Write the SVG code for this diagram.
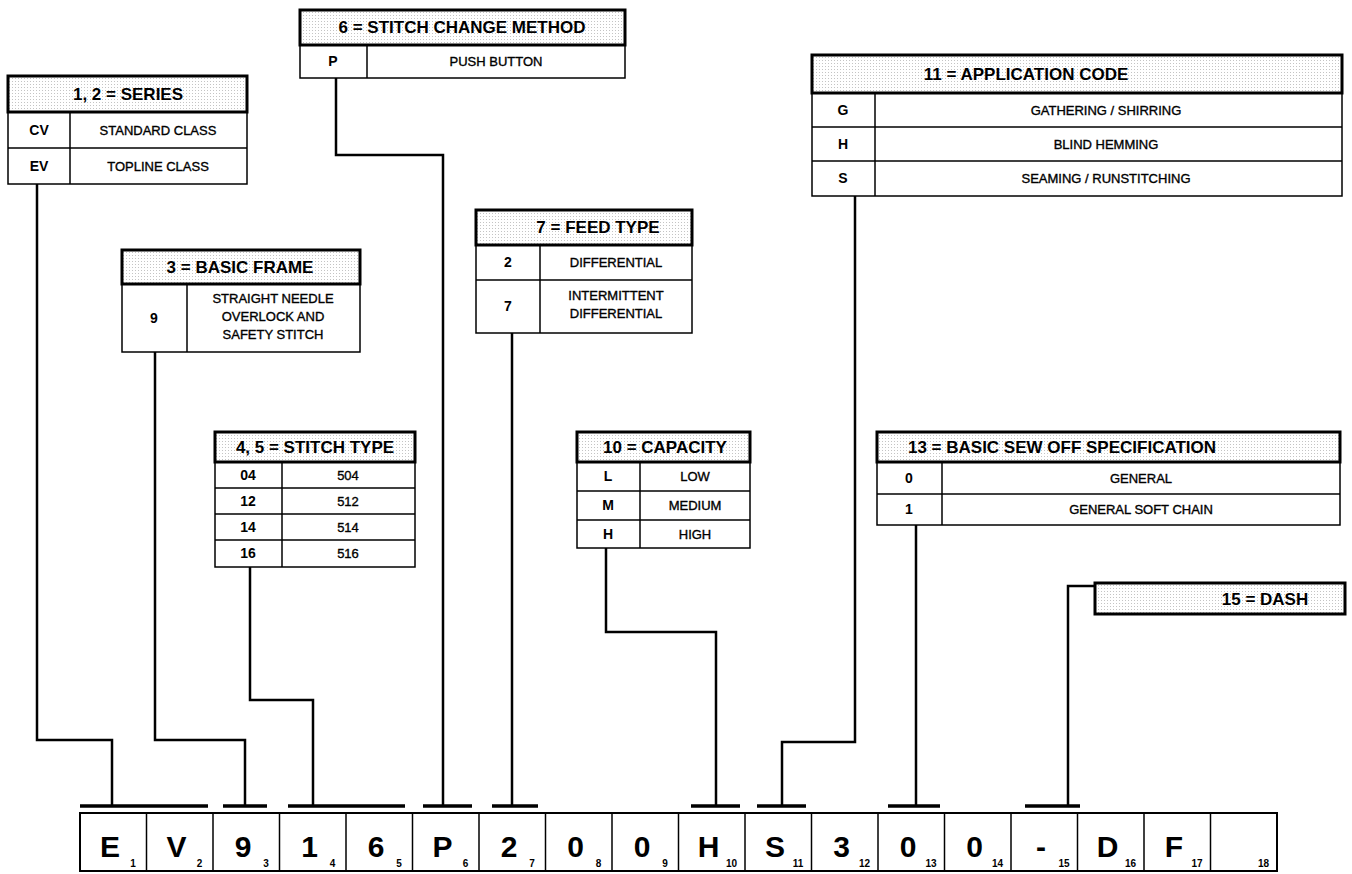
<svg xmlns="http://www.w3.org/2000/svg" width="1352" height="874" viewBox="0 0 1352 874">
<defs>
<pattern id="dots" width="3" height="3" patternUnits="userSpaceOnUse"><rect width="3" height="3" fill="#fff"/><rect width="1" height="1" fill="#c4c4c4"/></pattern>
</defs>
<style>
.box{fill:#fff;stroke:#000;stroke-width:1.5}
.band{fill:url(#dots);stroke:#000;stroke-width:3}
.ln{stroke:#000;stroke-width:1.5}
.ttl{font-family:"Liberation Sans",Arial,sans-serif;font-weight:bold;font-size:17px;text-anchor:middle;fill:#000}
.code{font-family:"Liberation Sans",Arial,sans-serif;font-weight:bold;font-size:14px;text-anchor:middle;fill:#000}
.desc{font-family:"Liberation Sans",Arial,sans-serif;font-size:13px;text-anchor:middle;fill:#000;stroke:#000;stroke-width:0.35}
.conn{fill:none;stroke:#000;stroke-width:2.5}
.tick{stroke:#000;stroke-width:3.5}
.cell{fill:#fff;stroke:#000;stroke-width:2}
.big{font-family:"Liberation Sans",Arial,sans-serif;font-weight:bold;font-size:30px;text-anchor:middle;fill:#000}
.sub{font-family:"Liberation Sans",Arial,sans-serif;font-weight:bold;font-size:10px;text-anchor:middle;fill:#000}
</style>
<rect width="1352" height="874" fill="#fff"/>

<g id="connectors">
<polyline class="conn" points="37,184 37,740 112,740 112,806"/>
<polyline class="conn" points="155,352 155,740 245,740 245,806"/>
<polyline class="conn" points="250,567 250,700 313,700 313,806"/>
<polyline class="conn" points="336,78 336,155 443,155 443,806"/>
<polyline class="conn" points="512,333 512,806"/>
<polyline class="conn" points="606,548 606,632 716,632 716,806"/>
<polyline class="conn" points="855,196 855,742 782,742 782,806"/>
<polyline class="conn" points="916,525 916,806"/>
<polyline class="conn" points="1095,586 1068,586 1068,806"/>
<line class="tick" x1="80" y1="806" x2="208" y2="806"/>
<line class="tick" x1="223" y1="806" x2="267" y2="806"/>
<line class="tick" x1="288" y1="806" x2="405" y2="806"/>
<line class="tick" x1="423" y1="806" x2="472" y2="806"/>
<line class="tick" x1="492" y1="806" x2="538" y2="806"/>
<line class="tick" x1="691" y1="806" x2="740" y2="806"/>
<line class="tick" x1="757" y1="806" x2="806" y2="806"/>
<line class="tick" x1="888" y1="806" x2="940" y2="806"/>
<line class="tick" x1="1025" y1="806" x2="1080" y2="806"/>
</g>

<g id="series">
<rect class="box" x="8" y="76" width="239" height="108"/>
<rect class="band" x="8" y="76" width="239" height="36"/>
<line class="ln" x1="8" y1="148" x2="247" y2="148"/>
<line class="ln" x1="70" y1="112" x2="70" y2="184"/>
<text class="ttl" x="128" y="100">1, 2 = SERIES</text>
<text class="code" x="39" y="135">CV</text>
<text class="desc" x="158" y="135">STANDARD CLASS</text>
<text class="code" x="39" y="171">EV</text>
<text class="desc" x="158" y="171">TOPLINE CLASS</text>
</g>

<g id="stitch-change">
<rect class="box" x="300" y="10" width="325" height="68"/>
<rect class="band" x="300" y="10" width="325" height="35"/>
<line class="ln" x1="367" y1="45" x2="367" y2="78"/>
<text class="ttl" x="462" y="33">6 = STITCH CHANGE METHOD</text>
<text class="code" x="333" y="66">P</text>
<text class="desc" x="496" y="66">PUSH BUTTON</text>
</g>

<g id="application">
<rect class="box" x="812" y="55" width="530" height="141"/>
<rect class="band" x="812" y="55" width="530" height="38"/>
<line class="ln" x1="812" y1="127" x2="1342" y2="127"/>
<line class="ln" x1="812" y1="161" x2="1342" y2="161"/>
<line class="ln" x1="875" y1="93" x2="875" y2="196"/>
<text class="ttl" x="1026" y="80">11 = APPLICATION CODE</text>
<text class="code" x="843" y="115">G</text>
<text class="desc" x="1106" y="115">GATHERING / SHIRRING</text>
<text class="code" x="843" y="149">H</text>
<text class="desc" x="1106" y="149">BLIND HEMMING</text>
<text class="code" x="843" y="183">S</text>
<text class="desc" x="1106" y="183">SEAMING / RUNSTITCHING</text>
</g>

<g id="basic-frame">
<rect class="box" x="122" y="250" width="238" height="102"/>
<rect class="band" x="122" y="250" width="238" height="34"/>
<line class="ln" x1="187" y1="284" x2="187" y2="352"/>
<text class="ttl" x="240" y="273">3 = BASIC FRAME</text>
<text class="code" x="154" y="323">9</text>
<text class="desc" x="273" y="303">STRAIGHT NEEDLE</text>
<text class="desc" x="273" y="321">OVERLOCK AND</text>
<text class="desc" x="273" y="339">SAFETY STITCH</text>
</g>

<g id="feed-type">
<rect class="box" x="476" y="210" width="216" height="123"/>
<rect class="band" x="476" y="210" width="216" height="35"/>
<line class="ln" x1="476" y1="280" x2="692" y2="280"/>
<line class="ln" x1="540" y1="245" x2="540" y2="333"/>
<text class="ttl" x="598" y="233">7 = FEED TYPE</text>
<text class="code" x="508" y="267">2</text>
<text class="desc" x="616" y="267">DIFFERENTIAL</text>
<text class="code" x="508" y="311">7</text>
<text class="desc" x="616" y="300">INTERMITTENT</text>
<text class="desc" x="616" y="318">DIFFERENTIAL</text>
</g>

<g id="stitch-type">
<rect class="box" x="215" y="432" width="200" height="135"/>
<rect class="band" x="215" y="432" width="200" height="30"/>
<line class="ln" x1="215" y1="488" x2="415" y2="488"/>
<line class="ln" x1="215" y1="514" x2="415" y2="514"/>
<line class="ln" x1="215" y1="540" x2="415" y2="540"/>
<line class="ln" x1="282" y1="462" x2="282" y2="567"/>
<text class="ttl" x="315" y="453">4, 5 = STITCH TYPE</text>
<text class="code" x="248" y="480">04</text>
<text class="desc" x="348" y="480">504</text>
<text class="code" x="248" y="506">12</text>
<text class="desc" x="348" y="506">512</text>
<text class="code" x="248" y="532">14</text>
<text class="desc" x="348" y="532">514</text>
<text class="code" x="248" y="558">16</text>
<text class="desc" x="348" y="558">516</text>
</g>

<g id="capacity">
<rect class="box" x="577" y="432" width="173" height="116"/>
<rect class="band" x="577" y="432" width="173" height="30"/>
<line class="ln" x1="577" y1="491" x2="750" y2="491"/>
<line class="ln" x1="577" y1="520" x2="750" y2="520"/>
<line class="ln" x1="640" y1="462" x2="640" y2="548"/>
<text class="ttl" x="665" y="453">10 = CAPACITY</text>
<text class="code" x="608" y="481">L</text>
<text class="desc" x="695" y="481">LOW</text>
<text class="code" x="608" y="510">M</text>
<text class="desc" x="695" y="510">MEDIUM</text>
<text class="code" x="608" y="539">H</text>
<text class="desc" x="695" y="539">HIGH</text>
</g>

<g id="sew-off">
<rect class="box" x="877" y="432" width="463" height="93"/>
<rect class="band" x="877" y="432" width="463" height="30"/>
<line class="ln" x1="877" y1="494" x2="1340" y2="494"/>
<line class="ln" x1="942" y1="462" x2="942" y2="525"/>
<text class="ttl" x="1062" y="453">13 = BASIC SEW OFF SPECIFICATION</text>
<text class="code" x="909" y="483">0</text>
<text class="desc" x="1141" y="483">GENERAL</text>
<text class="code" x="909" y="514">1</text>
<text class="desc" x="1141" y="514">GENERAL SOFT CHAIN</text>
</g>

<g id="dash">
<rect class="band" x="1095" y="583" width="250" height="31"/>
<text class="ttl" x="1265" y="605">15 = DASH</text>
</g>

<g id="code-cells">
<rect class="cell" x="80" y="813" width="1197" height="58"/>
<line class="ln" x1="146.5" y1="813" x2="146.5" y2="871"/>
<line class="ln" x1="213" y1="813" x2="213" y2="871"/>
<line class="ln" x1="279.5" y1="813" x2="279.5" y2="871"/>
<line class="ln" x1="346" y1="813" x2="346" y2="871"/>
<line class="ln" x1="412.5" y1="813" x2="412.5" y2="871"/>
<line class="ln" x1="479" y1="813" x2="479" y2="871"/>
<line class="ln" x1="545.5" y1="813" x2="545.5" y2="871"/>
<line class="ln" x1="612" y1="813" x2="612" y2="871"/>
<line class="ln" x1="678.5" y1="813" x2="678.5" y2="871"/>
<line class="ln" x1="745" y1="813" x2="745" y2="871"/>
<line class="ln" x1="811.5" y1="813" x2="811.5" y2="871"/>
<line class="ln" x1="878" y1="813" x2="878" y2="871"/>
<line class="ln" x1="944.5" y1="813" x2="944.5" y2="871"/>
<line class="ln" x1="1011" y1="813" x2="1011" y2="871"/>
<line class="ln" x1="1077.5" y1="813" x2="1077.5" y2="871"/>
<line class="ln" x1="1144" y1="813" x2="1144" y2="871"/>
<line class="ln" x1="1210.5" y1="813" x2="1210.5" y2="871"/>
<text class="big" x="110" y="857">E</text><text class="sub" x="133" y="867">1</text>
<text class="big" x="176.5" y="857">V</text><text class="sub" x="199.5" y="867">2</text>
<text class="big" x="243" y="857">9</text><text class="sub" x="266" y="867">3</text>
<text class="big" x="309.5" y="857">1</text><text class="sub" x="332.5" y="867">4</text>
<text class="big" x="376" y="857">6</text><text class="sub" x="399" y="867">5</text>
<text class="big" x="442.5" y="857">P</text><text class="sub" x="465.5" y="867">6</text>
<text class="big" x="509" y="857">2</text><text class="sub" x="532" y="867">7</text>
<text class="big" x="575.5" y="857">0</text><text class="sub" x="598.5" y="867">8</text>
<text class="big" x="642" y="857">0</text><text class="sub" x="665" y="867">9</text>
<text class="big" x="708.5" y="857">H</text><text class="sub" x="731.5" y="867">10</text>
<text class="big" x="775" y="857">S</text><text class="sub" x="798" y="867">11</text>
<text class="big" x="841.5" y="857">3</text><text class="sub" x="864.5" y="867">12</text>
<text class="big" x="908" y="857">0</text><text class="sub" x="931" y="867">13</text>
<text class="big" x="974.5" y="857">0</text><text class="sub" x="997.5" y="867">14</text>
<text class="big" x="1041" y="857">-</text><text class="sub" x="1064" y="867">15</text>
<text class="big" x="1107.5" y="857">D</text><text class="sub" x="1130.5" y="867">16</text>
<text class="big" x="1174" y="857">F</text><text class="sub" x="1197" y="867">17</text>
<text class="sub" x="1263.5" y="867">18</text>
</g>
</svg>
